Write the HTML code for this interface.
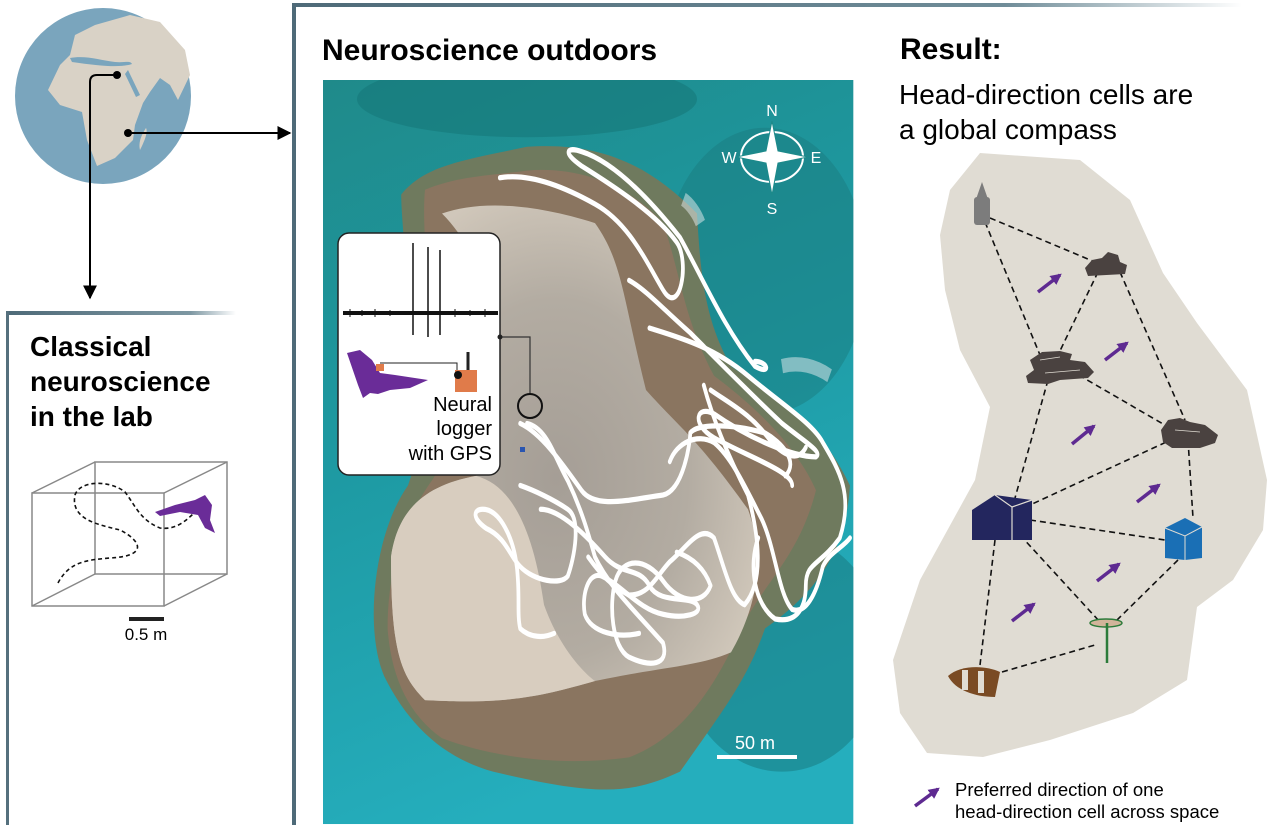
<!DOCTYPE html>
<html><head><meta charset="utf-8"><style>
html,body{margin:0;padding:0;background:#fff}
svg{display:block}
text{font-family:"Liberation Sans",Arial,sans-serif}
</style></head><body>
<svg width="1280" height="825" viewBox="0 0 1280 825" xmlns="http://www.w3.org/2000/svg">
<defs>
<linearGradient id="topg" x1="0" x2="1" y1="0" y2="0">
<stop offset="0" stop-color="#4e6a78"/><stop offset="0.75" stop-color="#6f8c98"/><stop offset="1" stop-color="#fff"/></linearGradient>
<linearGradient id="labg" x1="0" x2="1"><stop offset="0" stop-color="#4e6a78"/><stop offset="0.8" stop-color="#7d97a2"/><stop offset="1" stop-color="#fff"/></linearGradient>
<linearGradient id="sea" x1="0" y1="0" x2="0.3" y2="1"><stop offset="0" stop-color="#1f8a8a"/><stop offset="0.5" stop-color="#1e9aa3"/><stop offset="1" stop-color="#25aebd"/></linearGradient>
<radialGradient id="sand" cx="0.45" cy="0.55" r="0.6"><stop offset="0" stop-color="#a59e96"/><stop offset="0.6" stop-color="#b3aca2"/><stop offset="1" stop-color="#d0c7ba"/></radialGradient>
<clipPath id="pc"><rect x="0" y="0" width="1560" height="1560"/></clipPath>
<marker id="ah" viewBox="0 0 10 10" refX="9" refY="5" markerWidth="7" markerHeight="7" orient="auto"><path d="M0,0 L10,5 L0,10 z" fill="#000"/></marker>
<marker id="pa" viewBox="0 0 10 10" refX="8" refY="5" markerWidth="3.2" markerHeight="3.2" orient="auto"><path d="M0,0 L10,5 L0,10 z" fill="#5e2a91"/></marker>
</defs>

<rect x="292" y="3" width="950" height="4" fill="url(#topg)"/>
<rect x="292" y="3" width="4" height="822" fill="#4e6a78"/>
<rect x="6" y="311" width="230" height="4" fill="url(#labg)"/>
<rect x="6" y="311" width="3" height="514" fill="#55707d"/>

<circle cx="103" cy="96" r="88" fill="#7aa5bd"/>
<path d="M48,90 L60,65 L70,55 L75,35 L95,25 L130,15 L160,22 L185,50 L190,75 L178,100 L170,85 L160,78 L150,92 L143,103 L135,125 L133,140 L115,158 L97,166 L87,140 L82,112 L60,105 Z" fill="#d9d2c6"/>
<path d="M70,58 C85,55 100,60 115,62 C125,63 130,60 132,64 C120,68 100,66 72,62 Z" fill="#7aa5bd"/>
<path d="M128,70 L140,95 L136,97 L125,74Z" fill="#7aa5bd"/>
<path d="M140,150 C145,140 148,132 146,128 C142,134 138,142 140,150Z" fill="#d9d2c6"/>
<path d="M117,75 L97,75 Q90,75 90,82 L90,298" fill="none" stroke="#000" stroke-width="2" marker-end="url(#ah)"/>
<circle cx="117" cy="75" r="4" fill="#000"/>
<path d="M128,133 L290,133" fill="none" stroke="#000" stroke-width="2" marker-end="url(#ah)"/>
<circle cx="128" cy="133" r="4" fill="#000"/>

<text x="30" y="356" font-size="28" font-weight="bold">Classical</text>
<text x="30" y="391" font-size="28" font-weight="bold">neuroscience</text>
<text x="30" y="426" font-size="28" font-weight="bold">in the lab</text>
<g fill="none" stroke="#888" stroke-width="1.5">
<rect x="32" y="493" width="132" height="113"/>
<rect x="95" y="462" width="132" height="112"/>
<path d="M32,493 L95,462 M164,493 L227,462 M164,606 L227,574 M32,606 L95,574"/>
</g>
<path d="M58,583 C70,560 90,560 110,558 C150,556 140,540 120,530 C100,525 70,520 75,495 C80,480 110,480 125,492 C135,505 140,520 160,528 C175,530 185,522 195,512" fill="none" stroke="#111" stroke-width="1.6" stroke-dasharray="4,3"/>
<path d="M155,512 L175,505 L195,500 L205,495 L212,505 L210,520 L215,533 L205,528 L198,515 L180,512 L160,516 Z" fill="#6a2c98"/>
<rect x="129" y="617" width="35" height="4" fill="#222"/>
<text x="146" y="640" font-size="17" text-anchor="middle">0.5 m</text>

<text x="322" y="60" font-size="30" font-weight="bold">Neuroscience outdoors</text>
<g transform="translate(323,80) scale(0.34,0.477)">
<g clip-path="url(#pc)">
<rect x="0" y="0" width="1560" height="1560" fill="url(#sea)"/>
<ellipse cx="600" cy="40" rx="500" ry="80" fill="#16787a" opacity="0.6"/>
<ellipse cx="1300" cy="400" rx="300" ry="300" fill="#1a7c80" opacity="0.5"/>
<ellipse cx="1350" cy="1200" rx="300" ry="250" fill="#17757c" opacity="0.5"/>
<path d="M230,240 C300,180 400,170 600,140 C800,130 950,170 1100,280 C1110,400 1120,500 1200,600 C1300,650 1450,700 1550,850 C1540,950 1500,1050 1300,1150 C1250,1250 1200,1300 1050,1450 C900,1500 800,1500 500,1450 C350,1420 250,1350 180,1250 C120,1150 150,950 250,850 C300,750 300,700 280,600 C260,500 230,300 230,240 Z" fill="#6f7a5e"/>
<path d="M300,230 C400,200 500,200 600,190 C750,180 900,220 1000,300 C1050,400 1060,500 1150,620 C1300,700 1400,780 1450,860 C1400,1000 1300,1050 1230,1150 C1150,1280 1050,1380 900,1420 C700,1440 500,1420 350,1380 C250,1330 200,1250 190,1150 C190,1000 260,900 320,840 C380,780 350,680 330,560 C310,440 290,300 300,230 Z" fill="#8a7560"/>
<path d="M350,280 C450,255 600,255 800,300 C880,380 880,450 950,650 C1050,730 1100,750 1250,900 C1300,1000 1280,1100 1200,1200 C1100,1230 1000,1230 800,1260 C650,1290 550,1310 300,1300 C230,1250 200,1200 200,1000 C220,900 300,850 450,830 C520,760 520,700 500,500 C470,400 420,330 350,280 Z" fill="url(#sand)"/>
<path d="M200,1000 C220,900 300,850 450,830 C560,850 620,950 650,1100 C700,1200 780,1250 800,1260 C650,1290 550,1310 300,1300 C230,1250 200,1200 200,1000Z" fill="#d8cdbf"/>
<g fill="none" stroke="#fff" stroke-width="11" stroke-linecap="round" stroke-linejoin="round">
<path d="M520,205 C600,195 700,220 800,260 C900,300 950,380 1000,440 C1050,500 1080,380 1040,340 C980,280 850,220 760,180 C700,150 720,140 760,150 C850,170 950,240 1050,330 C1120,420 1180,520 1270,600 C1320,620 1310,590 1270,590"/>
<path d="M900,420 C950,440 1000,480 1080,530 C1150,580 1260,660 1350,720 C1420,760 1470,780 1450,790 C1380,790 1250,750 1150,700 C1100,680 1080,720 1150,750 C1250,790 1380,820 1380,850"/>
<path d="M960,520 C1050,540 1150,560 1250,620 C1350,680 1440,720 1470,760 C1520,820 1560,870 1520,960 C1460,1020 1420,1010 1420,1060 C1420,1100 1400,1140 1330,1130 C1270,1100 1250,1020 1280,960"/>
<path d="M1120,640 C1150,720 1200,800 1250,870 C1280,950 1300,1050 1240,1100 C1200,1090 1180,1020 1150,960 C1110,930 1070,980 1020,1010 C980,1040 960,1080 900,1080 C850,1060 820,1040 780,1000"/>
<path d="M580,720 C640,740 700,800 760,860 C800,900 900,880 1000,870 C1060,860 1080,760 1080,740 C1100,720 1200,720 1300,740 C1350,760 1400,800 1360,830"/>
<path d="M600,720 C660,730 680,790 720,840 C760,900 780,950 800,1000 C840,1060 900,1100 1000,1180 C1020,1230 960,1230 900,1210 C850,1190 840,1100 860,1050 C880,1000 950,1000 1000,1050 C1050,1100 1120,1100 1140,1060 C1120,1020 1080,1000 1040,990"/>
<path d="M580,850 C620,860 680,880 720,900 C760,920 740,1000 720,1040 C700,1060 620,1050 580,1020 C550,1000 540,960 480,940 C440,920 440,900 470,900 C520,900 560,960 570,1020 C580,1080 570,1120 580,1150 C610,1170 650,1170 680,1160"/>
<path d="M640,900 C700,900 780,960 830,1000 C880,1040 930,1020 960,1060 C990,1100 1080,1080 1100,1100 C1120,1120 1060,1130 1000,1120 C930,1110 880,1060 820,1040 C780,1030 760,1080 770,1120 C790,1160 870,1170 930,1160"/>
<path d="M1020,800 C1040,760 1100,740 1150,760 C1200,790 1240,850 1290,920 C1330,980 1340,1080 1380,1110 C1420,1120 1450,1080 1470,1020 C1490,990 1530,980 1550,960"/>
<path d="M1140,650 C1200,680 1260,700 1320,760 C1360,790 1400,800 1420,770"/>
</g>
<path d="M1060,250 C1080,260 1100,280 1110,300" fill="none" stroke="#e8eef0" stroke-width="30" opacity="0.5"/>
<path d="M1350,600 C1400,590 1450,600 1490,620" fill="none" stroke="#e8eef0" stroke-width="30" opacity="0.5"/>
</g>
</g>
<ellipse cx="772" cy="157" rx="31" ry="25" fill="none" stroke="#fff" stroke-width="2"/>
<path d="M772,121 L778,151 L808,157 L778,163 L772,195 L766,163 L736,157 L766,151 Z" fill="#fff" stroke="#1d8a8a" stroke-width="1"/>
<text x="772" y="116" font-size="16" fill="#fff" text-anchor="middle">N</text>
<text x="772" y="214" font-size="16" fill="#fff" text-anchor="middle">S</text>
<text x="729" y="163" font-size="16" fill="#fff" text-anchor="middle">W</text>
<text x="816" y="163" font-size="16" fill="#fff" text-anchor="middle">E</text>
<rect x="717" y="755" width="80" height="4" fill="#fff"/>
<text x="755" y="749" font-size="18" fill="#fff" text-anchor="middle">50 m</text>

<rect x="338" y="233" width="162" height="242" rx="11" fill="#fff" stroke="#222" stroke-width="1.5"/>
<path d="M343,313 L498,313" stroke="#111" stroke-width="4"/>
<path d="M350,309 L350,317 M362,310 L362,316 M375,309 L375,317 M390,310 L390,316 M455,309 L455,317 M470,310 L470,316 M485,309 L485,317" stroke="#111" stroke-width="1"/>
<path d="M413,243 L413,335 M428,247 L428,337 M440,250 L440,335" stroke="#111" stroke-width="1.5"/>
<path d="M500,337 L530,337 L530,393" fill="none" stroke="#333" stroke-width="1.2"/>
<circle cx="500" cy="337" r="2.5" fill="#222"/>
<circle cx="530" cy="406" r="12" fill="none" stroke="#111" stroke-width="2"/>
<rect x="520" y="447" width="5" height="5" fill="#2a55b0"/>
<path d="M347,353 L360,350 L372,360 L380,373 L395,375 L428,380 L410,388 L390,390 L378,394 L370,393 L363,398 L358,385 Z" fill="#6a2c98"/>
<path d="M380,363 L457,363 L457,372" fill="none" stroke="#222" stroke-width="1"/>
<rect x="376" y="364" width="8" height="7" fill="#e07b4a"/>
<rect x="455" y="370" width="22" height="22" fill="#e07b4a"/>
<path d="M468,352 L468,370" stroke="#222" stroke-width="3"/>
<circle cx="458" cy="375" r="4" fill="#111"/>
<text x="492" y="411" font-size="20" text-anchor="end">Neural</text>
<text x="492" y="435" font-size="20" text-anchor="end">logger</text>
<text x="492" y="460" font-size="20" text-anchor="end">with GPS</text>

<text x="900" y="59" font-size="30" font-weight="bold">Result:</text>
<text x="899" y="104" font-size="28">Head-direction cells are</text>
<text x="899" y="139" font-size="28">a global compass</text>
<path d="M980,153 L1080,160 L1130,200 L1163,273 L1197,323 L1247,390 L1267,480 L1263,530 L1233,580 L1197,607 L1187,680 L1133,713 L1050,740 L983,757 L927,753 L900,713 L893,660 L920,580 L975,480 L990,407 L960,350 L945,290 L940,235 L950,190 Z" fill="#e0dcd3"/>
<g stroke="#111" stroke-width="1.6" stroke-dasharray="6,4" fill="none">
<path d="M990,218 L1095,262 M985,222 L1040,355 M1098,272 L1058,355 M1120,272 L1185,420 M1070,370 L1170,428 M1048,380 L1015,498 M1175,438 L1030,505 M1188,440 L1193,518 M1030,520 L1165,540 M1020,535 L1100,622 M1178,560 L1115,622 M995,540 L980,665 M1002,672 L1095,645"/>
</g>
<path d="M974,205 L982,182 L990,205 Z" fill="#7c7c7c"/>
<rect x="974" y="197" width="16" height="28" rx="3" fill="#7c7c7c"/>
<path d="M1085,268 L1092,260 L1102,258 L1108,252 L1118,255 L1120,262 L1127,265 L1125,274 L1088,276 Z" fill="#4a4240"/>
<path d="M1030,360 L1042,352 L1060,351 L1072,354 L1070,360 L1085,362 L1094,372 L1088,378 L1060,380 L1048,384 L1028,383 L1026,376 L1034,370 Z" fill="#4a4240"/>
<path d="M1161,430 L1168,420 L1180,418 L1190,422 L1205,425 L1218,435 L1215,443 L1200,448 L1172,448 L1163,442 Z" fill="#4a4240"/>
<path d="M1040,360 L1060,357 M1045,373 L1080,370 M1175,430 L1200,432" stroke="#e0dcd3" stroke-width="0.8" fill="none"/>
<path d="M972,510 L995,495 L1032,500 L1032,540 L972,540 Z" fill="#23265e"/>
<path d="M995,495 L1012,507 L1012,540 M1012,507 L1032,500" stroke="#e0dcd3" stroke-width="1.2" fill="none"/>
<path d="M1165,528 L1185,518 L1202,527 L1202,558 L1185,560 L1165,558 Z" fill="#1a6fb5"/>
<path d="M1165,528 L1185,536 L1202,527 M1185,536 L1185,560" stroke="#e0dcd3" stroke-width="1" fill="none"/>
<ellipse cx="1106" cy="623" rx="16" ry="4" fill="#d2b49a" stroke="#2c7b3a" stroke-width="1.5"/>
<path d="M1107,623 L1107,663" stroke="#2c7b3a" stroke-width="2.5"/>
<path d="M948,676 C960,665 985,665 1000,672 L995,697 C975,697 955,690 948,676Z" fill="#7a4b24"/>
<rect x="962" y="670" width="6" height="20" fill="#e0dcd3"/>
<rect x="978" y="671" width="6" height="22" fill="#e0dcd3"/>
<g stroke="#5e2a91" stroke-width="3.5" fill="none" marker-end="url(#pa)">
<path d="M1038,292 L1060,275"/>
<path d="M1105,360 L1127,343"/>
<path d="M1072,444 L1094,426"/>
<path d="M1137,502 L1159,485"/>
<path d="M1097,581 L1119,564"/>
<path d="M1012,621 L1034,604"/>
<path d="M915,806 L938,789"/>
</g>
<text x="955" y="796" font-size="18.5">Preferred direction of one</text>
<text x="955" y="818" font-size="18.5">head-direction cell across space</text>
</svg>
</body></html>
